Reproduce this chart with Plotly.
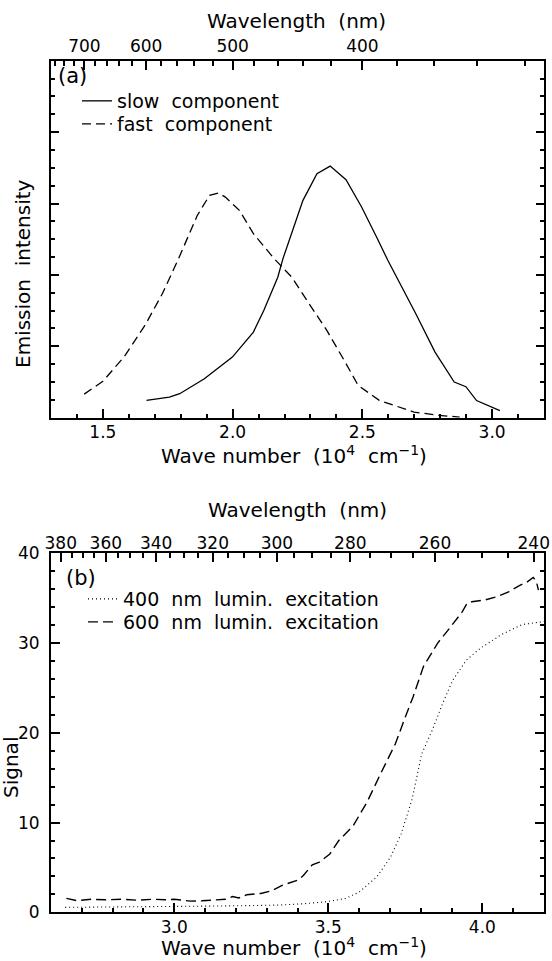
import plotly.graph_objects as go

# ---------------- data ----------------
# Panel (a): emission spectra, wave number in 10^4 cm^-1, intensity arb. units
slow_wn = [1.668, 1.756, 1.796, 1.891, 1.999, 2.080, 2.120, 2.174, 2.194, 2.271,
           2.325, 2.376, 2.437, 2.497, 2.558, 2.598, 2.706, 2.780, 2.854, 2.899,
           2.940, 3.030]
slow_int = [0.243, 0.289, 0.336, 0.546, 0.849, 1.199, 1.502, 1.968, 2.228, 3.044,
            3.417, 3.524, 3.333, 2.951, 2.507, 2.204, 1.455, 0.919, 0.499, 0.434,
            0.240, 0.100]

fast_wn = [1.428, 1.500, 1.581, 1.662, 1.729, 1.790, 1.864, 1.911, 1.945, 1.972,
           2.026, 2.080, 2.160, 2.228, 2.295, 2.363, 2.430, 2.484, 2.565, 2.699,
           2.794, 2.875]
fast_int = [0.330, 0.510, 0.849, 1.292, 1.735, 2.215, 2.834, 3.114, 3.146, 3.090,
            2.904, 2.578, 2.228, 1.968, 1.595, 1.222, 0.802, 0.452, 0.243, 0.079,
            0.033, 0.009]

# Panel (b): excitation spectra, signal
exc400_wn = [2.646, 2.750, 2.850, 2.950, 3.050, 3.140, 3.250, 3.343, 3.420, 3.494,
             3.556, 3.601, 3.657, 3.702, 3.736, 3.772, 3.803, 3.837, 3.871, 3.904,
             3.949, 3.994, 4.062, 4.129, 4.200]
exc400_sig = [0.55, 0.60, 0.62, 0.65, 0.68, 0.70, 0.75, 0.81, 0.95, 1.18,
              1.54, 2.28, 3.93, 6.14, 8.71, 12.6, 17.64, 20.26, 23.26, 25.88,
              28.13, 29.44, 30.94, 32.06, 32.40]

exc600_wn = [2.650, 2.684, 2.730, 2.776, 2.830, 2.880, 2.930, 2.970, 3.000, 3.052,
             3.090, 3.121, 3.166, 3.189, 3.210, 3.235, 3.281, 3.316, 3.350, 3.402,
             3.419, 3.448, 3.471, 3.505, 3.534, 3.580, 3.626, 3.672, 3.718, 3.746,
             3.775, 3.809, 3.855, 3.890, 3.913, 3.935, 3.950, 3.966, 4.009, 4.050,
             4.085, 4.120, 4.145, 4.165, 4.175, 4.182]
exc600_sig = [1.55, 1.30, 1.45, 1.40, 1.45, 1.35, 1.45, 1.40, 1.45, 1.25,
              1.28, 1.35, 1.45, 1.75, 1.60, 1.95, 2.10, 2.40, 3.00, 3.60,
              4.10, 5.30, 5.60, 6.50, 8.00, 9.60, 12.3, 15.6, 18.8, 21.4,
              24.0, 27.4, 30.0, 31.5, 32.5, 33.5, 34.4, 34.6, 34.8, 35.2,
              35.7, 36.4, 36.8, 37.3, 36.9, 35.9]

# Tick labels of the wavelength (top) axes, nm
top_a_major_nm = [700, 600, 500, 400]
top_a_minor_nm = [760, 740, 720, 680, 660, 640, 620, 580, 560, 540, 520,
                  480, 460, 440, 420, 380, 360, 340, 320]
top_b_major_nm = [380, 360, 340, 320, 300, 280, 260, 240]
top_b_minor_nm = [385, 375, 370, 365, 355, 350, 345, 335, 330, 325, 315, 310,
                  305, 295, 290, 285, 275, 270, 265, 255, 250, 245]

# ---------------- layout helpers ----------------
W, H = 552, 961
ML, MR = 51, 8
PW = W - ML - MR
FONT = "DejaVu Sans"
SP = "\u00a0\u00a0"


def px_x(px):
    return (px - ML) / PW


def px_y(py):
    return 1 - py / H


def nm_to_wn(nm):
    return 1000.0 / nm   # 10^4 cm^-1


fig = go.Figure()

fig.add_trace(go.Scatter(x=slow_wn, y=slow_int, mode="lines", name="slow" + SP + "component",
                         line=dict(color="black", width=1.3),
                         xaxis="x", yaxis="y", legend="legend"))
fig.add_trace(go.Scatter(x=fast_wn, y=fast_int, mode="lines", name="fast" + SP + "component",
                         line=dict(color="black", width=1.3, dash="9px,5px"),
                         xaxis="x2", yaxis="y", legend="legend3"))
fig.add_trace(go.Scatter(x=exc400_wn, y=exc400_sig, mode="lines",
                         name="400" + SP + "nm" + SP + "lumin." + SP + "excitation",
                         line=dict(color="black", width=1.1, dash="1px,3px"),
                         xaxis="x3", yaxis="y2", legend="legend2"))
fig.add_trace(go.Scatter(x=exc600_wn, y=exc600_sig, mode="lines",
                         name="600" + SP + "nm" + SP + "lumin." + SP + "excitation",
                         line=dict(color="black", width=1.4, dash="10px,5px"),
                         xaxis="x4", yaxis="y2", legend="legend4"))

axis_common = dict(showline=True, linecolor="black", linewidth=2, showgrid=False,
                   zeroline=False, ticks="inside", tickcolor="black", tickwidth=1.5,
                   automargin=False,
                   tickfont=dict(family=FONT, size=17, color="black"))

dom_a = [px_y(417.7), px_y(60.7)]
dom_b = [px_y(912.3), px_y(553.3)]


def minor(**kw):
    d = dict(ticks="inside", ticklen=4, tickcolor="black", tickwidth=1.5)
    d.update(kw)
    return d


def legend_at(xpx, ypx_top):
    return dict(x=px_x(xpx), y=px_y(ypx_top), xanchor="left", yanchor="top",
                bgcolor="rgba(0,0,0,0)", borderwidth=0, itemwidth=30,
                font=dict(family=FONT, size=19, color="black"))


fig.update_layout(
    width=W, height=H, template="none",
    paper_bgcolor="white", plot_bgcolor="white",
    margin=dict(l=ML, r=MR, t=0, b=0),
    font=dict(family=FONT, color="black"),
    hovermode=False,
    xaxis=dict(axis_common, domain=[0, 1], anchor="y", range=[1.3, 3.2],
               tickmode="linear", tick0=0, dtick=0.5, tickformat=".1f", ticklen=9,
               ticklabelstandoff=-2,
               minor=minor(dtick=0.1, tick0=0)),
    xaxis2=dict(axis_common, overlaying="x", anchor="y", side="top",
                range=[1.3, 3.2], tickmode="array",
                tickvals=[nm_to_wn(v) for v in top_a_major_nm],
                ticktext=[str(v) for v in top_a_major_nm], ticklen=9,
                minor=minor(tickmode="array", ticklen=5,
                            tickvals=[nm_to_wn(v) for v in top_a_minor_nm])),
    yaxis=dict(axis_common, domain=dom_a, anchor="x", range=[0, 5],
               tickmode="linear", tick0=0, dtick=1, ticklen=8, showticklabels=False,
               mirror="ticks", minor=minor(dtick=0.25, tick0=0)),
    xaxis3=dict(axis_common, domain=[0, 1], anchor="y2", range=[2.6, 4.2],
                tickmode="linear", tick0=0, dtick=0.5, tickformat=".1f", ticklen=9,
                ticklabelstandoff=-2,
                minor=minor(dtick=0.1, tick0=0)),
    xaxis4=dict(axis_common, overlaying="x3", anchor="y2", side="top",
                range=[2.6, 4.2], tickmode="array",
                tickvals=[nm_to_wn(v) for v in top_b_major_nm],
                ticktext=[str(v) for v in top_b_major_nm], ticklen=9,
                ticklabelstandoff=-4,
                minor=minor(tickmode="array", ticklen=5,
                            tickvals=[nm_to_wn(v) for v in top_b_minor_nm])),
    yaxis2=dict(axis_common, domain=dom_b, anchor="x3", range=[0, 40],
                tickmode="linear", tick0=0, dtick=10, ticklen=9, mirror="ticks",
                ticklabelstandoff=6, minor=minor(dtick=2, tick0=0)),
    legend=legend_at(77, 82),
    legend3=legend_at(77, 105),
    legend2=legend_at(83, 580),
    legend4=legend_at(83, 603),
    showlegend=True,
)

ann_font = dict(family=FONT, size=20, color="black")
annotations = [
    dict(text="Wavelength" + SP + "(nm)", x=px_x(296), y=px_y(21)),
    dict(text="Wave" + "\u00a0" + "number" + SP + "(10<sup>4</sup>" + SP + "cm<sup>\u22121</sup>)",
         x=px_x(294), y=px_y(455)),
    dict(text="Emission" + SP + "intensity", x=px_x(23), y=px_y(274), textangle=-90),
    dict(text="(a)", x=px_x(72), y=px_y(76), font=dict(family=FONT, size=21, color="black")),
    dict(text="Wavelength" + SP + "(nm)", x=px_x(297), y=px_y(510)),
    dict(text="Wave" + "\u00a0" + "number" + SP + "(10<sup>4</sup>" + SP + "cm<sup>\u22121</sup>)",
         x=px_x(294), y=px_y(947)),
    dict(text="Signal", x=px_x(11), y=px_y(768), textangle=-90),
    dict(text="(b)", x=px_x(81), y=px_y(578), font=dict(family=FONT, size=21, color="black")),
]
for a in annotations:
    a.setdefault("font", ann_font)
    a.update(xref="paper", yref="paper", showarrow=False,
             xanchor="center", yanchor="middle")
fig.update_layout(annotations=annotations)

fig.write_html("out.html", config={"displayModeBar": False},
               post_script="document.body.style.margin='0';")
